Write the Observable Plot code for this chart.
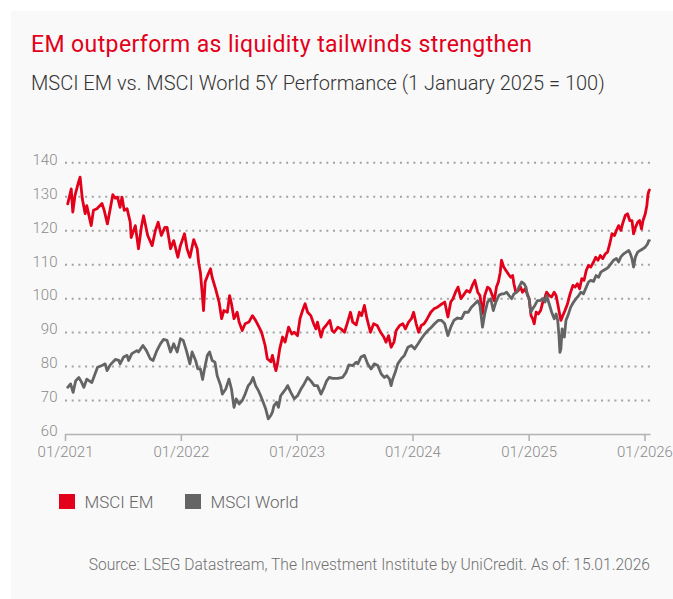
<!DOCTYPE html>
<html>
<head>
<meta charset="utf-8">
<script src="https://cdn.jsdelivr.net/npm/d3@7"></script>
<script src="https://cdn.jsdelivr.net/npm/@observablehq/plot@0.6"></script>
<style>
html,body{margin:0;padding:0;background:#ffffff;}
body{width:673px;height:599px;position:relative;overflow:hidden;font-family:Roboto,"Open Sans",sans-serif;}
#panel{position:absolute;left:11px;top:11px;right:0;bottom:0;background:#f9f9f9;}
.txt{position:absolute;white-space:nowrap;line-height:1;}
#title{left:31px;top:33.3px;font-size:23px;letter-spacing:0.4px;color:#e2001a;font-weight:400;}
#subtitle{left:31px;top:72.5px;font-size:20px;color:#333333;font-weight:300;}
#chart{position:absolute;left:0;top:140px;}
#legend{position:absolute;left:59px;top:494px;height:16px;}
.sw{position:absolute;top:0;width:16px;height:15px;}
.lt{position:absolute;top:-0.3px;font-size:17px;color:#666666;line-height:1;white-space:nowrap;font-weight:300;}
#source{right:23px;top:557.6px;font-size:15.6px;color:#707070;font-weight:300;}
</style>
</head>
<body>
<div id="panel"></div>
<div id="title" class="txt">EM outperform as liquidity tailwinds strengthen</div>
<div id="subtitle" class="txt">MSCI EM vs. MSCI World 5Y Performance (1 January 2025 = 100)</div>
<div id="chart"></div>
<div id="legend"></div>
<div id="source" class="txt">Source: LSEG Datastream, The Investment Institute by UniCredit. As of: 15.01.2026</div>
<script>
// ---- Data ----
const seriesNames = ["MSCI EM", "MSCI World"];
const seriesColors = ["#e2001a", "#646464"];

const emDates = ["2021-01-08","2021-01-19","2021-01-24","2021-01-31","2021-02-11","2021-02-16","2021-02-23","2021-03-04","2021-03-09","2021-03-23","2021-03-30","2021-04-10","2021-04-26","2021-05-03","2021-05-13","2021-05-22","2021-05-30","2021-06-07","2021-06-14","2021-06-22","2021-06-28","2021-07-05","2021-07-14","2021-07-24","2021-07-27","2021-08-09","2021-08-19","2021-08-28","2021-09-04","2021-09-17","2021-10-01","2021-10-11","2021-10-20","2021-10-30","2021-11-10","2021-11-17","2021-11-28","2021-12-08","2021-12-21","2021-12-29","2022-01-11","2022-01-19","2022-01-28","2022-02-09","2022-02-20","2022-02-25","2022-03-02","2022-03-07","2022-03-12","2022-03-17","2022-03-27","2022-04-03","2022-04-08","2022-04-19","2022-04-30","2022-05-08","2022-05-15","2022-05-26","2022-06-02","2022-06-08","2022-06-16","2022-06-26","2022-07-02","2022-07-12","2022-07-21","2022-08-02","2022-08-13","2022-08-23","2022-09-03","2022-09-11","2022-09-22","2022-09-29","2022-10-10","2022-10-15","2022-10-26","2022-10-31","2022-11-07","2022-11-16","2022-11-24","2022-12-05","2022-12-15","2022-12-23","2023-01-02","2023-01-10","2023-01-18","2023-01-26","2023-02-03","2023-02-13","2023-02-22","2023-03-01","2023-03-06","2023-03-17","2023-03-24","2023-04-02","2023-04-14","2023-04-21","2023-04-28","2023-05-09","2023-05-19","2023-05-30","2023-06-09","2023-06-18","2023-06-25","2023-07-06","2023-07-16","2023-07-23","2023-08-01","2023-08-09","2023-08-20","2023-08-30","2023-09-10","2023-09-21","2023-10-01","2023-10-08","2023-10-16","2023-10-24","2023-11-02","2023-11-09","2023-11-20","2023-11-30","2023-12-08","2023-12-18","2023-12-27","2024-01-03","2024-01-11","2024-01-19","2024-01-27","2024-02-05","2024-02-15","2024-02-26","2024-03-07","2024-03-18","2024-03-28","2024-04-10","2024-04-20","2024-04-29","2024-05-06","2024-05-14","2024-05-22","2024-05-31","2024-06-07","2024-06-18","2024-06-28","2024-07-06","2024-07-14","2024-07-23","2024-07-30","2024-08-07","2024-08-14","2024-08-23","2024-08-30","2024-09-07","2024-09-13","2024-09-20","2024-09-26","2024-10-02","2024-10-06","2024-10-13","2024-10-20","2024-10-27","2024-11-04","2024-11-10","2024-11-14","2024-11-20","2024-11-28","2024-12-05","2024-12-11","2024-12-19","2024-12-26","2025-01-01","2025-01-07","2025-01-12","2025-01-17","2025-01-23","2025-01-30","2025-02-06","2025-02-13","2025-02-20","2025-02-25","2025-03-05","2025-03-13","2025-03-21","2025-03-27","2025-04-01","2025-04-06","2025-04-11","2025-04-17","2025-04-24","2025-05-02","2025-05-10","2025-05-19","2025-05-26","2025-06-02","2025-06-09","2025-06-16","2025-06-23","2025-06-30","2025-07-07","2025-07-14","2025-07-23","2025-07-30","2025-08-06","2025-08-13","2025-08-21","2025-08-29","2025-09-05","2025-09-12","2025-09-19","2025-09-27","2025-10-03","2025-10-10","2025-10-17","2025-10-24","2025-10-31","2025-11-07","2025-11-14","2025-11-21","2025-11-26","2025-12-02","2025-12-09","2025-12-15","2025-12-21","2025-12-26","2026-01-02","2026-01-07","2026-01-10","2026-01-13","2026-01-15"];
const emValues = [127.9,132.3,125.5,130.4,134.3,135.8,129.4,125.0,127.4,121.5,126.0,126.5,128.0,126.0,122.0,126.5,130.6,129.6,129.9,126.9,129.9,126.0,126.5,122.5,118.0,121.5,114.7,121.0,124.4,118.6,115.6,120.0,122.5,118.6,121.0,121.0,114.7,117.1,112.2,115.6,119.1,114.7,112.2,117.4,114.7,110.3,107.8,102.4,96.5,104.9,107.3,108.8,106.3,102.9,99.0,94.1,96.5,96.0,100.9,98.5,94.1,96.0,93.1,90.6,92.6,93.1,95.0,93.6,91.6,90.1,86.2,82.3,81.4,83.3,78.8,80.8,85.2,88.7,87.2,91.6,89.6,90.1,89.1,94.1,96.5,98.5,96.0,95.0,92.6,91.1,93.1,88.7,91.1,92.1,93.6,90.6,90.1,91.6,91.1,90.1,93.1,96.0,93.1,92.3,96.0,95.0,98.0,94.1,90.1,92.6,92.1,90.1,88.7,87.2,89.1,85.7,87.2,90.6,92.1,92.6,91.1,93.1,94.1,96.0,92.6,90.1,92.1,92.6,94.1,96.0,97.0,97.5,98.2,99.0,94.6,99.0,100.0,101.9,103.4,100.0,100.9,102.4,101.9,103.9,105.4,101.9,100.9,95.5,100.9,103.4,102.9,100.9,99.4,103.4,104.9,107.8,111.3,109.3,108.3,107.3,106.3,106.8,104.4,101.9,102.4,103.4,101.9,102.9,101.4,100.0,95.0,94.1,92.6,96.0,95.5,96.5,99.0,100.5,101.9,100.9,100.5,101.9,100.9,98.5,96.0,93.6,95.0,96.5,98.5,101.4,103.9,103.4,104.4,102.9,105.9,105.4,108.3,109.8,109.3,110.8,112.2,111.3,112.7,111.8,113.2,113.7,116.1,119.1,118.6,120.1,121.5,120.1,122.5,124.5,125.0,123.0,123.0,119.1,121.0,122.5,123.0,120.5,123.0,125.0,127.4,130.4,131.6,132.0];

const worldDates = ["2021-01-08","2021-01-17","2021-01-25","2021-02-02","2021-02-12","2021-02-20","2021-02-28","2021-03-09","2021-03-17","2021-03-25","2021-04-02","2021-04-12","2021-04-26","2021-05-06","2021-05-12","2021-05-22","2021-06-07","2021-06-18","2021-06-22","2021-07-03","2021-07-14","2021-07-19","2021-07-29","2021-08-14","2021-08-19","2021-09-02","2021-09-13","2021-09-25","2021-10-04","2021-10-16","2021-10-27","2021-11-06","2021-11-17","2021-11-28","2021-12-08","2021-12-19","2021-12-29","2022-01-07","2022-01-17","2022-01-28","2022-02-04","2022-02-15","2022-02-22","2022-03-02","2022-03-09","2022-03-15","2022-03-24","2022-03-31","2022-04-08","2022-04-17","2022-04-24","2022-05-05","2022-05-10","2022-05-21","2022-05-31","2022-06-08","2022-06-16","2022-06-23","2022-07-02","2022-07-12","2022-07-21","2022-07-31","2022-08-08","2022-08-15","2022-08-23","2022-09-01","2022-09-08","2022-09-16","2022-09-24","2022-10-02","2022-10-10","2022-10-15","2022-10-20","2022-10-28","2022-11-03","2022-11-10","2022-11-18","2022-11-26","2022-12-02","2022-12-12","2022-12-23","2023-01-02","2023-01-13","2023-01-23","2023-02-03","2023-02-13","2023-02-24","2023-03-06","2023-03-17","2023-03-27","2023-04-04","2023-04-12","2023-04-23","2023-05-09","2023-05-24","2023-06-04","2023-06-13","2023-06-25","2023-07-06","2023-07-11","2023-07-21","2023-08-01","2023-08-11","2023-08-22","2023-09-01","2023-09-12","2023-09-23","2023-10-03","2023-10-11","2023-10-19","2023-10-24","2023-10-29","2023-11-06","2023-11-14","2023-11-25","2023-12-05","2023-12-16","2023-12-27","2024-01-06","2024-01-17","2024-01-27","2024-02-07","2024-02-17","2024-02-28","2024-03-09","2024-03-20","2024-03-31","2024-04-10","2024-04-20","2024-04-29","2024-05-09","2024-05-20","2024-06-02","2024-06-12","2024-06-23","2024-07-03","2024-07-14","2024-07-23","2024-07-30","2024-08-07","2024-08-14","2024-08-23","2024-09-02","2024-09-10","2024-09-18","2024-09-28","2024-10-06","2024-10-13","2024-10-22","2024-10-30","2024-11-07","2024-11-14","2024-11-23","2024-11-30","2024-12-08","2024-12-16","2024-12-22","2024-12-27","2025-01-01","2025-01-06","2025-01-12","2025-01-19","2025-01-27","2025-02-04","2025-02-13","2025-02-20","2025-02-25","2025-03-05","2025-03-13","2025-03-21","2025-03-27","2025-04-01","2025-04-05","2025-04-08","2025-04-11","2025-04-15","2025-04-22","2025-04-27","2025-05-05","2025-05-12","2025-05-21","2025-05-29","2025-06-06","2025-06-13","2025-06-21","2025-06-30","2025-07-07","2025-07-14","2025-07-23","2025-07-31","2025-08-08","2025-08-15","2025-08-23","2025-09-01","2025-09-08","2025-09-16","2025-09-24","2025-10-03","2025-10-10","2025-10-17","2025-10-26","2025-11-03","2025-11-11","2025-11-16","2025-11-21","2025-11-26","2025-12-02","2025-12-09","2025-12-17","2025-12-26","2026-01-02","2026-01-09","2026-01-13","2026-01-15"];
const worldValues = [73.9,74.9,72.4,75.8,76.8,75.5,73.9,76.3,75.8,75.3,77.3,79.8,80.3,80.8,78.8,80.5,82.1,81.8,80.8,82.8,83.3,81.8,83.8,84.7,84.3,86.2,84.7,82.3,81.8,84.7,86.7,88.0,87.7,84.3,86.7,84.3,88.2,87.7,84.7,80.8,84.3,81.8,79.3,79.3,76.2,79.3,83.3,84.3,81.8,81.3,77.3,74.4,71.9,73.4,76.3,73.4,68.0,70.5,69.0,70.0,71.9,74.4,75.3,76.8,74.4,72.9,71.4,69.5,67.5,64.6,65.6,66.6,68.5,69.5,68.0,71.4,72.4,73.4,74.4,72.4,70.5,71.4,73.4,74.9,76.8,75.8,74.4,74.4,71.9,73.9,75.8,76.8,76.5,76.5,76.8,78.3,80.5,80.3,81.3,80.8,82.8,83.3,80.8,79.3,80.8,80.3,77.8,76.8,77.3,76.3,74.4,76.3,78.3,80.8,82.3,83.3,85.7,86.2,85.2,86.7,88.2,89.6,90.6,91.6,92.6,93.6,93.6,92.6,89.1,91.6,93.6,94.3,94.1,96.0,96.0,97.5,98.5,99.4,98.0,91.6,95.5,99.0,100.0,96.5,99.0,101.0,101.4,101.4,101.9,100.9,100.0,101.4,101.9,103.4,104.9,104.4,103.4,100.9,100.0,96.0,97.0,98.0,99.4,99.4,100.0,99.0,100.9,98.5,96.0,94.1,95.5,93.6,89.1,84.2,85.2,91.1,88.7,93.6,95.5,97.5,99.0,100.0,100.9,101.9,101.4,103.4,104.9,105.4,105.1,106.8,106.3,107.8,108.3,108.8,109.3,110.3,111.3,111.8,110.8,112.3,113.2,113.7,114.2,113.2,111.8,109.3,112.3,113.7,114.2,114.7,115.2,116.1,117.1,117.1];

const yTicks = [60, 70, 80, 90, 100, 110, 120, 130, 140];
const gridTicks = [70, 80, 90, 100, 110, 120, 130, 140];
const xTickLabels = ["01/2021","01/2022","01/2023","01/2024","01/2025","01/2026"];

// ---- Build tables ----
const parse = d3.utcParse("%Y-%m-%d");
const emData = emDates.map((d, i) => ({date: parse(d), value: emValues[i]}));
const worldData = worldDates.map((d, i) => ({date: parse(d), value: worldValues[i]}));
const xTicks = xTickLabels.map(s => d3.utcParse("%m/%Y")(s));

const chart = Plot.plot({
  width: 673,
  height: 335,
  marginLeft: 65,
  marginRight: 22.5,
  marginTop: 22.3,
  marginBottom: 41,
  style: {background: "transparent", fontFamily: "Roboto, sans-serif", overflow: "visible"},
  x: {type: "utc", domain: [parse("2021-01-01"), parse("2026-01-20")], label: null},
  y: {domain: [60, 140], label: null},
  marks: [
    Plot.gridY(gridTicks, {stroke: "#a3a3a3", strokeOpacity: 1, strokeWidth: 2, strokeDasharray: "2,4.7"}),
    Plot.ruleY([60], {stroke: "#b4b4b4", strokeWidth: 1.6}),
    Plot.axisY(yTicks, {tickSize: 0, tickPadding: 8, fontSize: 15, fill: "#8a8a8a", dy: -3, fontWeight: 300, label: null}),
    Plot.axisX(xTicks, {tickSize: 7, tickPadding: 5, fontSize: 15, fill: "#8a8a8a", stroke: "#b4b4b4", strokeWidth: 1.6,
      tickFormat: (d, i) => xTickLabels[i], fontWeight: 300, label: null}),
    Plot.line(emData, {x: "date", y: "value", stroke: seriesColors[0], strokeWidth: 2.8, strokeLinejoin: "round"}),
    Plot.line(worldData, {x: "date", y: "value", stroke: seriesColors[1], strokeWidth: 2.8, strokeLinejoin: "round"})
  ]
});
document.getElementById("chart").appendChild(chart);

// ---- Legend ----
const legend = document.getElementById("legend");
const legendX = [0, 126];
seriesNames.forEach((name, i) => {
  const sw = document.createElement("div");
  sw.className = "sw";
  sw.style.left = legendX[i] + "px";
  sw.style.background = seriesColors[i];
  legend.appendChild(sw);
  const t = document.createElement("div");
  t.className = "lt";
  t.style.left = (legendX[i] + 25.5) + "px";
  t.textContent = name;
  legend.appendChild(t);
});
</script>
</body>
</html>
